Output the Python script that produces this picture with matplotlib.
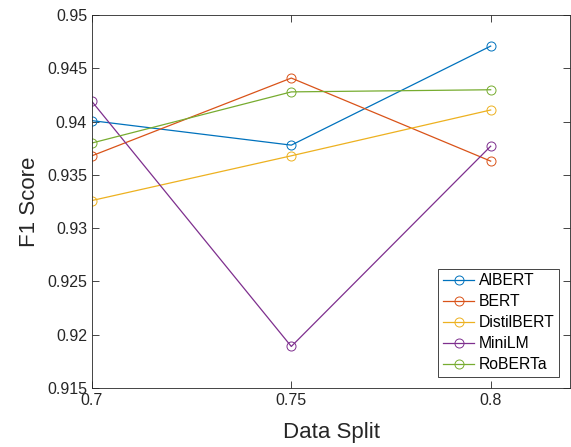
import numpy as np
import matplotlib
matplotlib.use('Agg')
import matplotlib.pyplot as plt

plt.rcParams['font.family'] = ['Liberation Sans', 'DejaVu Sans']

split = [0.7, 0.75, 0.8]
models = ['AlBERT', 'BERT', 'DistilBERT', 'MiniLM', 'RoBERTa']
albert = [0.9401, 0.9378, 0.9471]
bert = [0.9368, 0.9441, 0.9363]
distilbert = [0.9326, 0.9368, 0.9411]
minilm = [0.9419, 0.9189, 0.9377]
roberta = [0.9380, 0.9428, 0.9430]
scores = [albert, bert, distilbert, minilm, roberta]

colors = [(0, 0.447, 0.741), (0.85, 0.325, 0.098), (0.929, 0.694, 0.125),
          (0.494, 0.184, 0.556), (0.466, 0.674, 0.188)]

fig = plt.figure(figsize=(5.71, 4.47), dpi=100)
ax = fig.add_axes([0.161, 0.132, 0.838, 0.834])

for name, s, c in zip(models, scores, colors):
    ax.plot(split, s, color=c, linewidth=0.9, marker='o', markersize=6.5,
            markerfacecolor='none', markeredgewidth=0.7, label=name)

ax.set_xlim(0.7, 0.82)
ax.set_ylim(0.915, 0.95)
ax.set_xticks([0.7, 0.75, 0.8])
ax.set_xticklabels(['0.7', '0.75', '0.8'])
ax.set_yticks(np.arange(0.915, 0.9501, 0.005))
ax.set_yticklabels(['0.915', '0.92', '0.925', '0.93', '0.935', '0.94', '0.945', '0.95'])
ax.tick_params(direction='in', top=True, right=True, labelsize=11.5, length=5,
               width=0.6, colors='#262626')
for sp in ax.spines.values():
    sp.set_linewidth(0.6)
    sp.set_color('#262626')

ax.set_xlabel('Data Split', fontsize=16, color='#262626', labelpad=10)
ax.set_ylabel('F1 Score', fontsize=16, color='#262626', labelpad=5)

leg = ax.legend(loc='lower right', fontsize=11.3, fancybox=False, framealpha=1,
                edgecolor='#262626', borderaxespad=0.7, handlelength=2.0,
                handletextpad=0.3, labelspacing=0.38, borderpad=0.3)
leg.get_frame().set_linewidth(0.6)

plt.savefig('out.png', dpi=100)
